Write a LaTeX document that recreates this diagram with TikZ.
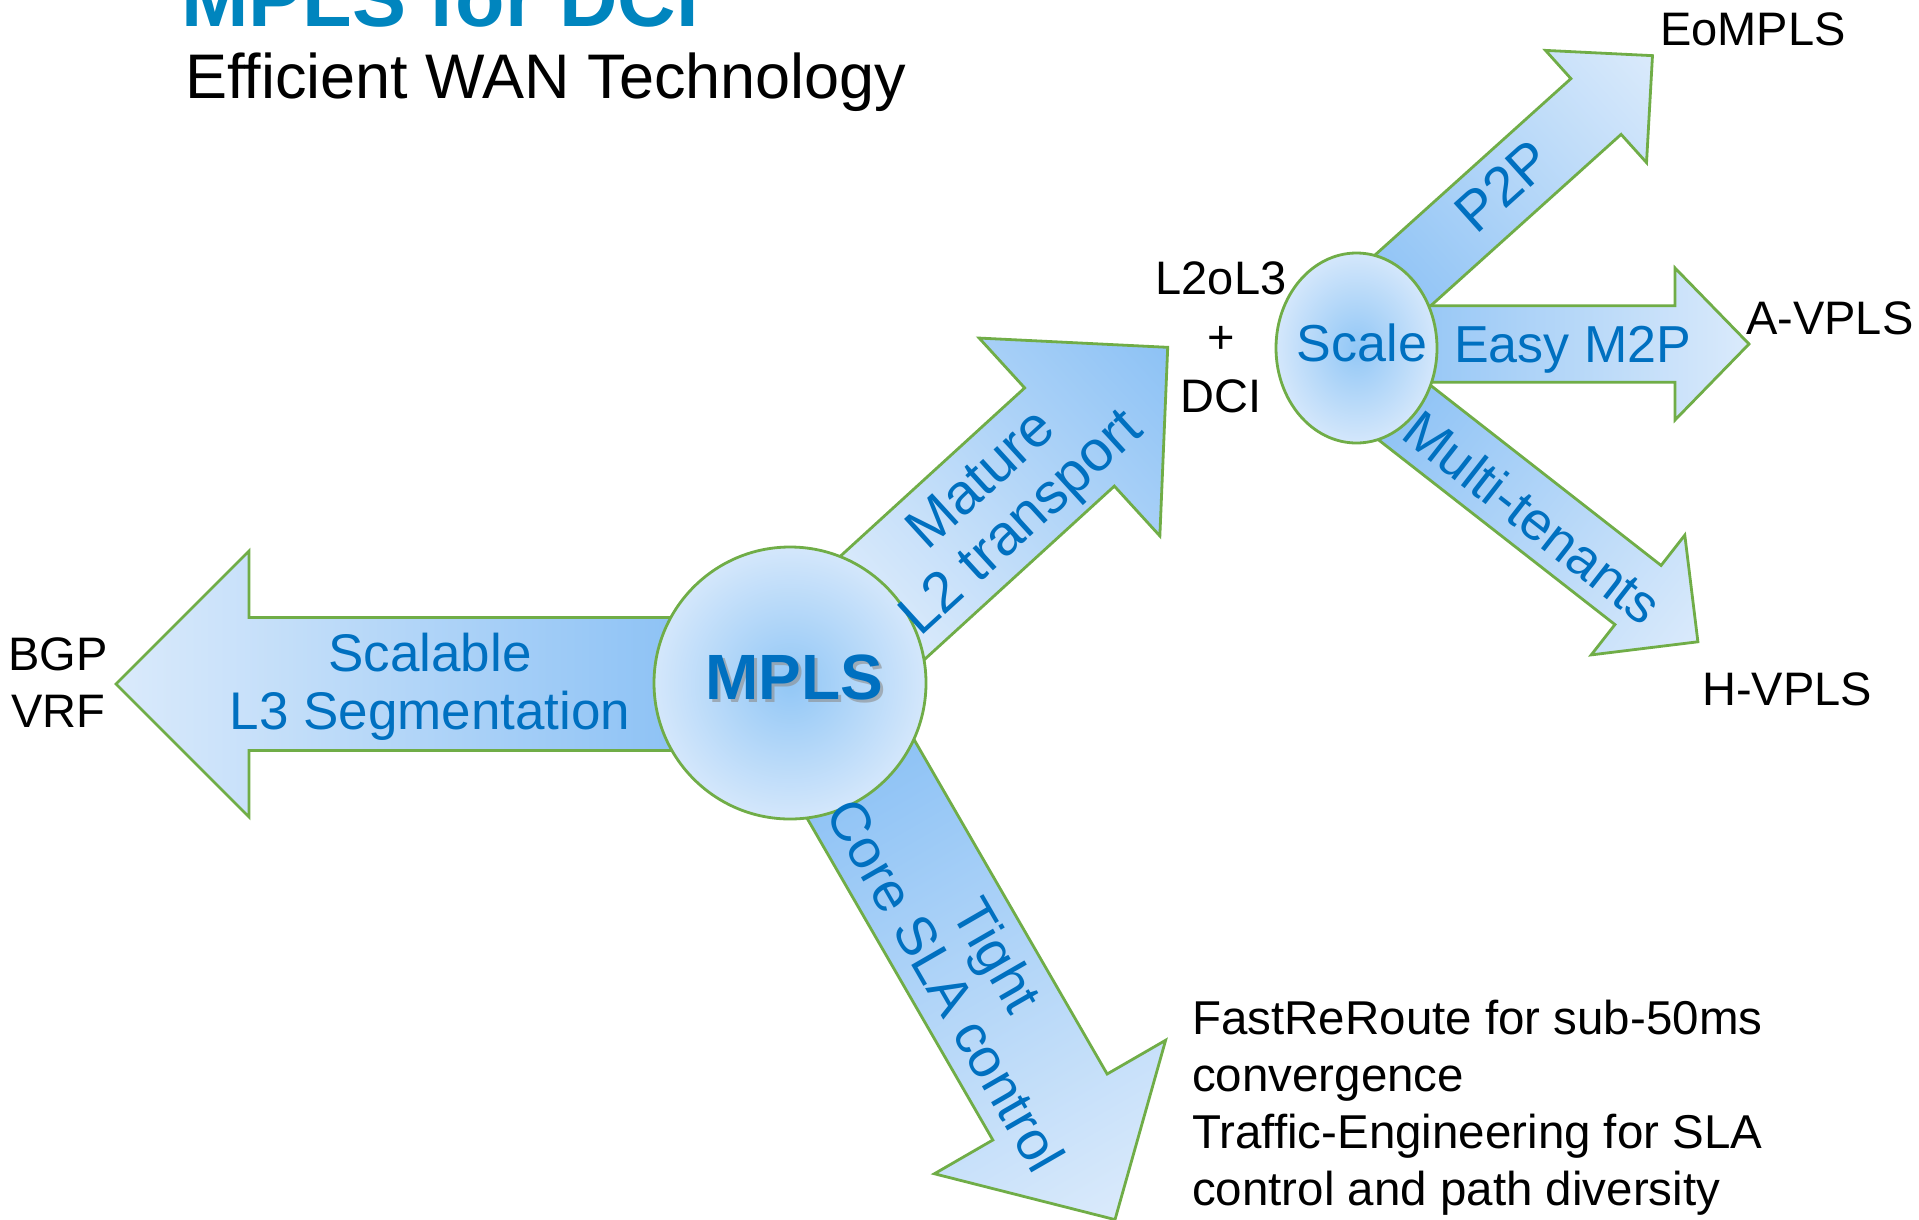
\documentclass[tikz,border=0pt]{standalone}
\usepackage{fontspec}
\setmainfont{Liberation Sans}
\usetikzlibrary{shapes.geometric}
\definecolor{adark}{RGB}{141,194,245}
\definecolor{alight}{RGB}{218,234,251}
\definecolor{cin}{RGB}{146,199,246}
\definecolor{cout}{RGB}{212,231,251}
\definecolor{gline}{RGB}{112,173,71}
\definecolor{btext}{RGB}{0,112,192}
\definecolor{ttl}{RGB}{0,133,190}
% #1,#2 head-back centre, #3 angle, #4 shaft length, #5 half shaft, #6 half head, #7 head length, #8 base colour, #9 tip colour
\newcommand{\fatarrow}[9]{%
  \path[transform canvas={shift={(#1,#2)},rotate=#3}, arrowbody, left color=#8, right color=#9]
    (-#4,-#5) -- (0,-#5) -- (0,-#6) -- (#7,0) -- (0,#6) -- (0,#5) -- (-#4,#5) -- cycle;}
\begin{document}
\begin{tikzpicture}[x=1pt,y=-1pt,
  arrowbody/.style={draw=gline, line width=2.8pt, line join=miter},
  bubble/.style={draw=gline, line width=2.8pt, inner sep=0pt, outer sep=0pt, shading=radial, inner color=cin, outer color=cout},
  bluelbl/.style={text=btext, inner sep=0pt, align=center},
  blacklbl/.style={text=black, inner sep=0pt}]
\useasboundingbox (0,0) rectangle (1919,1219);
\fill[white] (0,0) rectangle (1919,1219);

% title
\node[anchor=base west, inner sep=0pt, text=ttl, font=\fontsize{81}{90}\selectfont\bfseries] (title) at (181,26) {MPLS for DCI};
\node[anchor=base west, blacklbl, font=\fontsize{63}{70}\selectfont] (subtitle) at (185,98) {Efficient WAN Technology};

% big arrows
\fatarrow{249}{684}{180}{431}{66.5}{133}{133}{adark}{alight}
\fatarrow{1069.5}{437}{42.4}{262}{66.5}{134}{133}{alight}{adark}
\fatarrow{1050}{1107}{-60}{397}{66}{133.5}{130}{adark}{alight}
% small arrows
\fatarrow{1596}{106.5}{42}{290}{37.5}{75.5}{76}{adark}{alight}
\fatarrow{1675}{344}{0}{305}{38.3}{76}{74}{adark}{alight}
\fatarrow{1638}{595}{-38}{315}{37.5}{76}{76}{adark}{alight}

% bubbles
\node[bubble, circle, minimum size=272pt] (mpls) at (790,683) {};
\node[bubble, ellipse, minimum width=161pt, minimum height=190pt] (scale) at (1356.5,348) {};

% MPLS text with shadow
\node[anchor=base, inner sep=0pt, text=black!45, opacity=0.6, font=\fontsize{64}{70}\selectfont\bfseries] (mplsshadow) at (797,702) {MPLS};
\node[anchor=base, inner sep=0pt, text=btext, font=\fontsize{64}{70}\selectfont\bfseries] (mplstext) at (794,699) {MPLS};

% blue labels
\node[bluelbl, font=\fontsize{53}{58}\selectfont] (l3lbl) at (430,687) {Scalable\\L3 Segmentation};
\node[bluelbl, rotate=42.4, font=\fontsize{57}{59}\selectfont] (l2lbl) at (1003.5,503.4) {Mature\\L2 transport};
\node[bluelbl, rotate=-60, font=\fontsize{55}{60}\selectfont] (slalbl) at (972,970) {Tight\\Core SLA control};
\node[bluelbl, rotate=42, font=\fontsize{56}{60}\selectfont] (p2plbl) at (1503,186) {P2P};
\node[bluelbl, anchor=base, font=\fontsize{52}{58}\selectfont] (m2plbl) at (1572.5,362) {Easy M2P};
\node[bluelbl, rotate=-38, font=\fontsize{54}{58}\selectfont] (mtlbl) at (1533,517) {Multi-tenants};
\node[bluelbl, anchor=base, font=\fontsize{52}{58}\selectfont] (scalelbl) at (1362,361) {Scale};

% black labels
\node[blacklbl, anchor=north, align=center, font=\fontsize{47}{57}\selectfont] (bgp) at (58,637) {BGP\\VRF};
\node[blacklbl, anchor=north, align=center, font=\fontsize{47}{59}\selectfont] (l2ol3) at (1221,261) {L2oL3\\+\\DCI};
\node[blacklbl, anchor=base west, font=\fontsize{47}{57}\selectfont] (eompls) at (1660,45) {EoMPLS};
\node[blacklbl, anchor=base west, font=\fontsize{47}{57}\selectfont] (avpls) at (1746,334) {A-VPLS};
\node[blacklbl, anchor=base west, font=\fontsize{47}{57}\selectfont] (hvpls) at (1702,705) {H-VPLS};
\node[blacklbl, anchor=north west, align=left, font=\fontsize{47.5}{57}\selectfont] (frr) at (1192,1000) {FastReRoute for sub-50ms\\convergence\\Traffic-Engineering for SLA\\control and path diversity};
\end{tikzpicture}
\end{document}
